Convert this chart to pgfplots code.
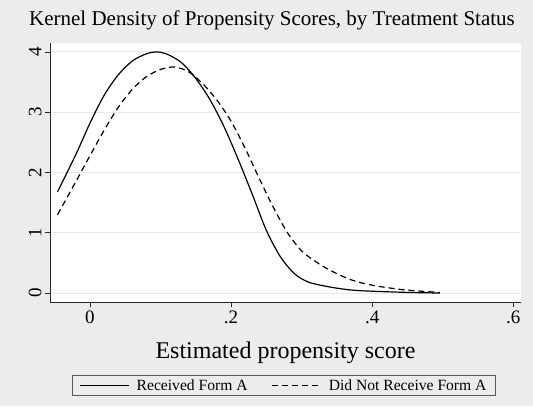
\documentclass[border=0pt]{standalone}
\usepackage{pgfplots}
\pgfplotsset{compat=1.18}
\usepackage{fontspec}
\setmainfont{Liberation Serif}
\definecolor{bg}{RGB}{236,236,236}
\definecolor{gridc}{RGB}{232,232,232}
\definecolor{axc}{RGB}{40,40,40}
\begin{document}
\begin{tikzpicture}[x=1bp,y=1bp]
\fill[bg] (0,0) rectangle (533,406);
\useasboundingbox (0,0) rectangle (533,406);
\node[font=\fontsize{21bp}{25bp}\selectfont, anchor=center] at (272,386) {Kernel Density of Propensity Scores, by Treatment Status};
\begin{axis}[
  at={(50bp,104bp)}, anchor=south west,
  scale only axis, width=471bp, height=259bp,
  xmin=-0.0567, xmax=0.611, ymin=-0.149, ymax=4.149,
  axis background/.style={fill=white},
  axis lines=left, axis line style={-, axc, line width=0.9bp},
  xtick={0,0.2,0.4,0.6}, xticklabels={0,.2,.4,.6},
  ytick={0,1,2,3,4},
  tick align=outside, major tick length=5bp,
  tick style={axc, line width=0.9bp},
  ymajorgrids, grid style={gridc, line width=1bp},
  /pgf/number format/assume math mode=true,
  ticklabel style={font=\fontsize{19bp}{22bp}\selectfont},
  yticklabel style={rotate=90, anchor=south},
  xlabel={Estimated propensity score},
  xlabel style={font=\fontsize{24bp}{28bp}\selectfont, yshift=-12bp},
  legend columns=2,
  legend style={at={(0.4968,-0.282)}, anchor=north, draw=gray!70!black, fill=bg,
     font=\fontsize{15.6bp}{18bp}\selectfont,
     /tikz/every odd column/.append style={column sep=5bp},
     /tikz/every even column/.append style={column sep=22bp},
     inner xsep=7bp, inner ysep=2bp},
  legend image code/.code={\draw[#1] (0bp,0bp) -- (49bp,0bp);},
]
\addplot[black, line width=1.2bp, smooth] coordinates {
(-0.046,1.68) (-0.02,2.3) (0,2.82) (0.02,3.28) (0.04,3.62) (0.06,3.85) (0.08,3.97) (0.095,4.0)
(0.11,3.96) (0.13,3.82) (0.15,3.56) (0.17,3.21) (0.19,2.76) (0.21,2.22) (0.23,1.64) (0.25,1.04)
(0.27,0.6) (0.29,0.32) (0.31,0.18) (0.34,0.1) (0.37,0.05) (0.40,0.03) (0.45,0.01) (0.496,0.0)};
\addlegendentry{Received Form A}
\addplot[black, line width=1.2bp, dash pattern=on 6bp off 4bp, smooth] coordinates {
(-0.046,1.3) (-0.02,1.85) (0,2.28) (0.02,2.7) (0.04,3.08) (0.06,3.38) (0.08,3.59) (0.1,3.71)
(0.12,3.75) (0.14,3.67) (0.16,3.47) (0.18,3.2) (0.2,2.85) (0.22,2.4) (0.24,1.9) (0.26,1.42)
(0.28,1.0) (0.30,0.7) (0.32,0.52) (0.34,0.38) (0.37,0.22) (0.40,0.13) (0.44,0.06) (0.47,0.03) (0.496,0.01)};
\addlegendentry{Did Not Receive Form A}
\end{axis}
\end{tikzpicture}
\end{document}
